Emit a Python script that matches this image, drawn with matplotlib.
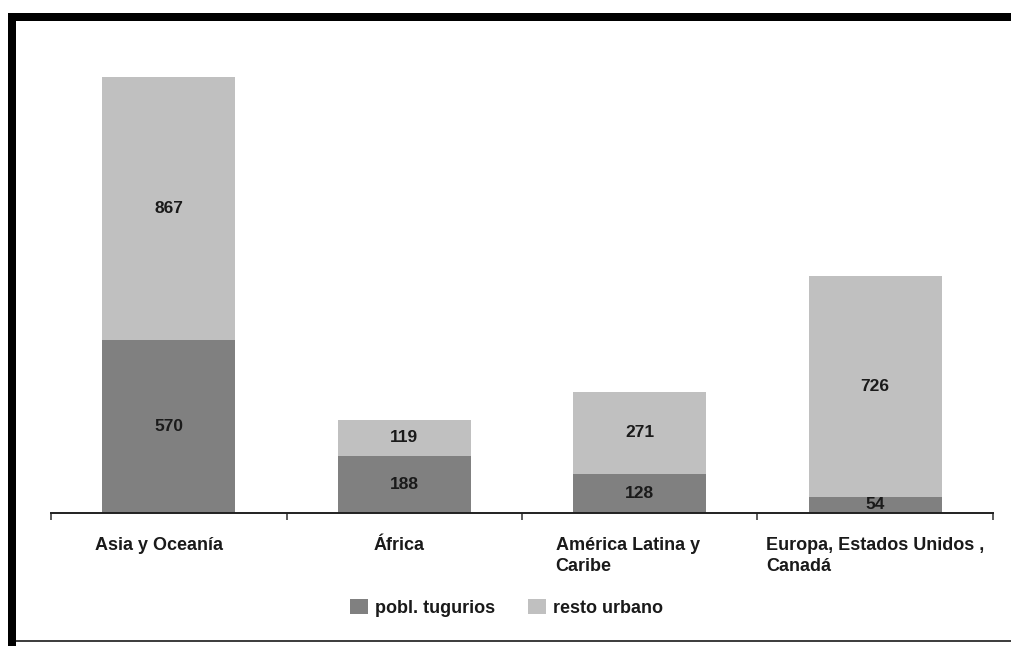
import numpy as np
import matplotlib
matplotlib.use('Agg')
import matplotlib.pyplot as plt
import matplotlib.transforms as mtransforms
from matplotlib.patches import Rectangle

## chart data (millions of people)
regiones  = ['Asia y Oceanía', 'África', 'América Latina y\nCaribe', 'Europa, Estados Unidos ,\nCanadá']
tugurios  = [570, 188, 128, 54]
resto     = [867, 119, 271, 726]
series    = ['pobl. tugurios', 'resto urbano']
colores   = ['#808080', '#C0C0C0']

plt.rcParams['font.family'] = ['Liberation Sans', 'DejaVu Sans']
plt.rcParams['font.weight'] = 'bold'
txtcol = '#1a1a1a'

fig = plt.figure(figsize=(10.11, 6.46), dpi=100)
ax = fig.add_axes([51/1011, 133/646, 942/1011, 486/646])

x = np.arange(len(regiones))
w = 0.565
b1 = ax.bar(x, tugurios, w, color=colores[0], label=series[0], zorder=2)
b2 = ax.bar(x, resto, w, bottom=tugurios, color=colores[1], label=series[1], zorder=2)

for bars in (b1, b2):
  for r in bars:
    h = r.get_height()
    ax.text(r.get_x() + r.get_width()/2, r.get_y() + h/2, '%d' % h,
            ha='center', va='center', fontsize=12.5, fontweight='bold', color=txtcol)

ax.set_xlim(-0.5, len(regiones) - 0.5)
ax.set_ylim(0, 1600)

# category boundaries get the tick marks, centres get the labels
ax.set_xticks(np.arange(len(regiones) + 1) - 0.5)
ax.set_xticklabels([])
ax.set_xticks(x, minor=True)
ax.set_xticklabels(regiones, minor=True, fontsize=13, fontweight='bold', color=txtcol,
                   multialignment='left', linespacing=1.3)
ax.tick_params(axis='x', which='major', length=5, width=1.2, color='#404040', direction='out')
ax.tick_params(axis='x', which='minor', length=0, pad=17)
# the original labels sit a little left of the category centre
nudge = [-10, -5, -12, 0]
for lab, dx in zip(ax.get_xticklabels(minor=True), nudge):
  lab.set_transform(lab.get_transform() + mtransforms.ScaledTranslation(dx/100, 0, fig.dpi_scale_trans))
ax.set_yticks([])
for s in ['top', 'right', 'left']:
  ax.spines[s].set_visible(False)
ax.spines['bottom'].set_color('#202020')
ax.spines['bottom'].set_linewidth(1.4)

fig.legend(loc='center', bbox_to_anchor=(0.501, 0.059), ncol=2, frameon=False,
           fontsize=13, handlelength=1.0, handleheight=0.9, handletextpad=0.4,
           columnspacing=1.8, labelcolor=txtcol)

## frame around the figure
fig.add_artist(Rectangle((8/1011, 0), 8/1011, 633/646, transform=fig.transFigure, color='black', lw=0))
fig.add_artist(Rectangle((8/1011, 625/646), 1, 8/646, transform=fig.transFigure, color='black', lw=0))
fig.add_artist(Rectangle((16/1011, 4/646), 1, 2/646, transform=fig.transFigure, color='#404040', lw=0))

fig.savefig('out.png', dpi=100)
